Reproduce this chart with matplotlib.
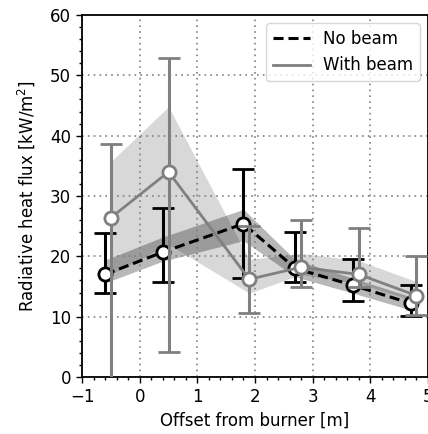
import matplotlib.pyplot as plt
import numpy as np

# no beam (black, dashed)
x_nobeam = [-0.6, 0.4, 1.8, 2.7, 3.7, 4.7]
q_nobeam = [17.0, 20.7, 25.4, 18.0, 15.2, 12.2]
q_nobeam_lo = [14.0, 15.7, 16.4, 15.8, 12.6, 10.1]
q_nobeam_hi = [23.9, 28.0, 34.5, 24.1, 19.6, 15.3]
band_nobeam_lo = [15.6, 19.2, 22.6, 16.6, 13.9, 11.1]
band_nobeam_hi = [19.4, 23.2, 27.8, 19.4, 16.4, 13.3]

# with beam (gray, solid)
x_beam = [-0.5, 0.5, 1.9, 2.8, 3.8, 4.8]
q_beam = [26.4, 34.0, 16.2, 18.2, 17.0, 13.5]
q_beam_lo = [-2.0, 4.1, 10.6, 15.0, 15.0, 10.3]
q_beam_hi = [38.7, 52.8, 25.0, 26.1, 24.7, 20.1]
band_beam_lo = [17.0, 22.0, 13.9, 17.0, 15.5, 12.5]
band_beam_hi = [35.7, 44.8, 19.5, 20.5, 19.3, 15.8]

FS = 12

fig = plt.figure(figsize=(4.28, 4.34), dpi=100)
ax = fig.add_axes([0.1916, 0.1313, 0.8084, 0.8341])

# bands
ax.fill_between(x_beam, band_beam_lo, band_beam_hi, color="gray", alpha=0.3, lw=0, zorder=1)
ax.fill_between(x_nobeam, band_nobeam_lo, band_nobeam_hi, color="k", alpha=0.28, lw=0, zorder=1)

# no beam
q = np.array(q_nobeam)
yerr = [q - np.array(q_nobeam_lo), np.array(q_nobeam_hi) - q]
ax.plot(x_nobeam, q_nobeam, color="k", lw=2.2, ls="--", dashes=(3.3, 1.6), label="No beam", zorder=3)
ax.errorbar(x_nobeam, q_nobeam, yerr=yerr, fmt="o", color="k", ecolor="k", elinewidth=2.2,
            capsize=8, capthick=2.2, mfc="white", mec="k", mew=2, ms=9.5, zorder=4)

# with beam
q = np.array(q_beam)
yerr = [q - np.array(q_beam_lo), np.array(q_beam_hi) - q]
ax.plot(x_beam, q_beam, color="gray", lw=2.0, label="With beam", zorder=5)
ax.errorbar(x_beam, q_beam, yerr=yerr, fmt="o", color="gray", ecolor="gray", elinewidth=2.2,
            capsize=8, capthick=2.2, mfc="white", mec="gray", mew=2, ms=9.5, zorder=6)

ax.set_xlim(-1, 5)
ax.set_ylim(0, 60)
ax.set_xticks(np.arange(-1, 6, 1))
ax.set_yticks(np.arange(0, 61, 10))
ax.set_xticks(np.arange(-1, 5.01, 0.2), minor=True)
ax.set_yticks(np.arange(0, 60.1, 2), minor=True)
ax.tick_params(which="major", length=4.5, width=1, labelsize=FS)
ax.tick_params(which="minor", length=2.5, width=1)
ax.grid(which="major", ls=(0, (1, 2.5)), color="gray", lw=1.2)
for s in ax.spines.values():
    s.set_linewidth(1.3)

ax.set_xlabel("Offset from burner [m]", fontsize=FS)
ax.set_ylabel("Radiative heat flux [kW/m$^2$]", fontsize=FS, labelpad=9)
ax.legend(loc="upper right", fontsize=FS, handlelength=2.2, borderaxespad=0.5)

fig.savefig("out.png", dpi=100)
